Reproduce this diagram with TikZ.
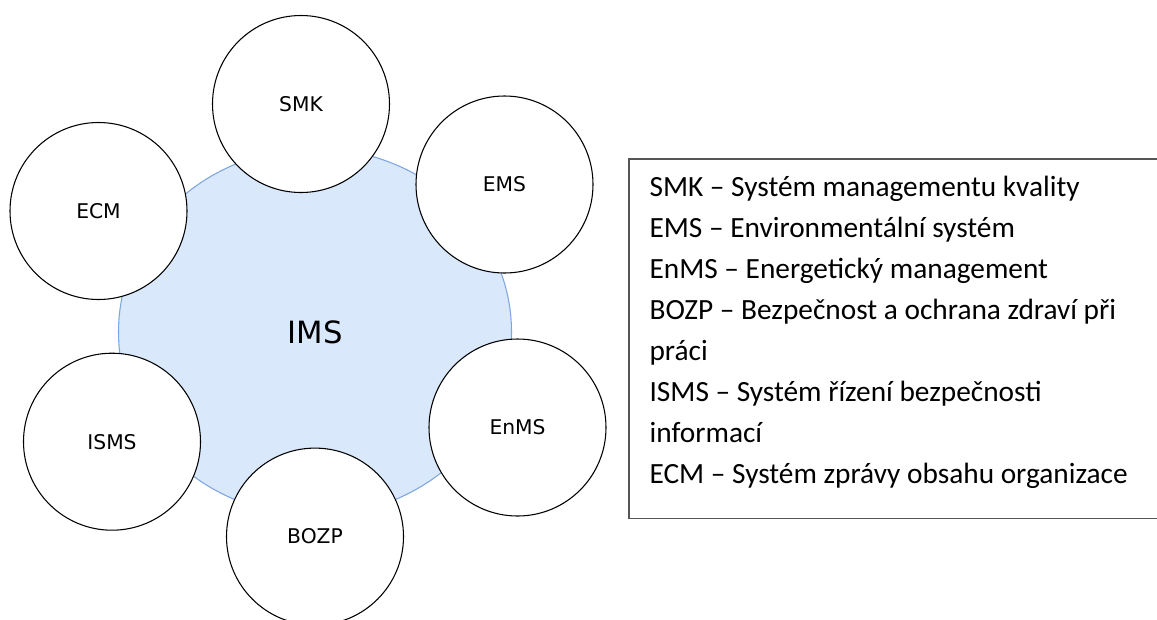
\documentclass[tikz,border=0pt]{standalone}
\usepackage{fontspec}
\setmainfont{DejaVu Sans}
\newfontfamily\legendfont{Carlito}
\usetikzlibrary{shapes.geometric}
\definecolor{imsfill}{HTML}{DAE8FC}
\definecolor{imsline}{HTML}{7EA6E0}
\definecolor{boxline}{HTML}{555555}
\begin{document}
\begin{tikzpicture}[x=0.75pt,y=-0.75pt,
  sub/.style={circle,draw=black,line width=0.8pt,fill=white,minimum size=132.75pt,inner sep=0pt,font=\fontsize{15.2}{18}\selectfont},
  core/.style={ellipse,draw=imsline,line width=0.8pt,fill=imsfill,minimum width=294.75pt,minimum height=275.25pt,inner sep=0pt,font=\fontsize{23}{28}\selectfont},
  legline/.style={anchor=base west,inner sep=0pt,font=\legendfont\fontsize{22}{26}\selectfont},
  legbox/.style={draw=boxline,line width=1.1pt}]
\useasboundingbox (0,0) rectangle (1157,619);
\clip (0,0) rectangle (1157,619);
\node[core] (ims) at (315,332) {IMS};
\node[sub] (smk) at (301,104) {SMK};
\node[sub] (ems) at (504.5,184.5) {EMS};
\node[sub] (ecm) at (98.5,211) {ECM};
\node[sub] (enms) at (517.5,427.5) {EnMS};
\node[sub] (isms) at (112,441.7) {ISMS};
\node[sub] (bozp) at (315,536.6) {BOZP};
\coordinate (bxtr) at (1175,159);
\coordinate (bxbl) at (629,518.3);
\coordinate (bxbr) at (1175,518.3);
\draw[legbox] (bxtr) -| (bxbl) -- (bxbr);
\node[legline] (l1) at (649.3,196.7) {SMK – Systém managementu kvality};
\node[legline] (l2) at (649.3,237.7) {EMS – Environmentální systém};
\node[legline] (l3) at (649.3,278.7) {EnMS – Energetický management};
\node[legline] (l4) at (649.3,319.7) {BOZP – Bezpečnost a ochrana zdraví při};
\node[legline] (l5) at (649.3,360.7) {práci};
\node[legline] (l6) at (649.3,401.7) {ISMS – Systém řízení bezpečnosti};
\node[legline] (l7) at (649.3,442.7) {informací};
\node[legline] (l8) at (649.3,483.7) {ECM – Systém zprávy obsahu organizace};
\end{tikzpicture}
\end{document}
